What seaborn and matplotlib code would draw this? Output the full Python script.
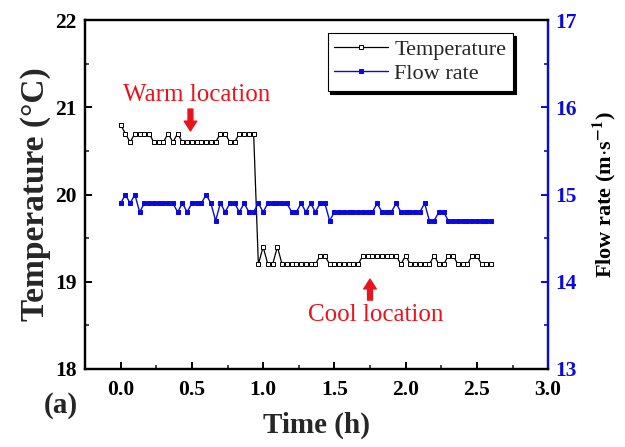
"""
Temperature and flow rate over time, dual y-axis line chart.
"""
import numpy as np
import matplotlib
matplotlib.use('Agg')
import matplotlib.pyplot as plt
import seaborn as sns
from matplotlib.ticker import MultipleLocator

# Time in hours, one reading every 2 minutes
time_h = [k / 30 for k in range(79)]

# Temperature readings (deg C)
temperature = [
    20.8, 20.7, 20.6, 20.7, 20.7, 20.7, 20.7, 20.6, 20.6, 20.6,
    20.7, 20.6, 20.7, 20.6, 20.6, 20.6, 20.6, 20.6, 20.6, 20.6,
    20.6, 20.7, 20.7, 20.6, 20.6, 20.7, 20.7, 20.7, 20.7, 19.2,
    19.4, 19.2, 19.2, 19.4, 19.2, 19.2, 19.2, 19.2, 19.2, 19.2,
    19.2, 19.2, 19.3, 19.3, 19.2, 19.2, 19.2, 19.2, 19.2, 19.2,
    19.2, 19.3, 19.3, 19.3, 19.3, 19.3, 19.3, 19.3, 19.3, 19.2,
    19.3, 19.2, 19.2, 19.2, 19.2, 19.2, 19.3, 19.2, 19.2, 19.3,
    19.3, 19.2, 19.2, 19.2, 19.3, 19.3, 19.2, 19.2, 19.2,
]

# Flow rate readings (m/s)
flow_rate = [
    14.9, 15.0, 14.9, 15.0, 14.8, 14.9, 14.9, 14.9, 14.9, 14.9,
    14.9, 14.9, 14.8, 14.9, 14.8, 14.9, 14.9, 14.9, 15.0, 14.9,
    14.7, 14.9, 14.8, 14.9, 14.9, 14.8, 14.9, 14.8, 14.8, 14.9,
    14.8, 14.9, 14.9, 14.9, 14.9, 14.9, 14.8, 14.8, 14.9, 14.8,
    14.9, 14.8, 14.9, 14.9, 14.7, 14.8, 14.8, 14.8, 14.8, 14.8,
    14.8, 14.8, 14.8, 14.8, 14.9, 14.8, 14.8, 14.8, 14.9, 14.8,
    14.8, 14.8, 14.8, 14.8, 14.9, 14.7, 14.7, 14.8, 14.8, 14.7,
    14.7, 14.7, 14.7, 14.7, 14.7, 14.7, 14.7, 14.7, 14.7,
]

BLUE = '#0a0adc'
RED = '#e8141b'

sns.set_style('ticks')
plt.rcParams['font.family'] = ['Liberation Serif', 'DejaVu Serif']
plt.rcParams['mathtext.fontset'] = 'stix'

fig = plt.figure(figsize=(6.25, 4.47), dpi=100)
ax1 = fig.add_axes([0.136, 0.1745, 0.741, 0.7805])
ax2 = ax1.twinx()

# Temperature on left axis
sns.lineplot(x=time_h, y=temperature, ax=ax1, color='black', linewidth=0.9,
             marker='s', markersize=3.2, markerfacecolor='white',
             markeredgecolor='black', markeredgewidth=0.7, label='Temperature',
             legend=False)

# Flow rate on right axis
sns.lineplot(x=time_h, y=flow_rate, ax=ax2, color=BLUE, linewidth=1.0,
             marker='s', markersize=3.0, markerfacecolor=BLUE,
             markeredgecolor=BLUE, label='Flow rate', legend=False)

ax1.set_xlim(-0.25, 3.0)
ax1.set_ylim(18, 22)
ax2.set_ylim(13, 17)

ax1.xaxis.set_major_locator(MultipleLocator(0.5))
ax1.xaxis.set_minor_locator(MultipleLocator(0.25))
ax1.yaxis.set_major_locator(MultipleLocator(1))
ax1.yaxis.set_minor_locator(MultipleLocator(0.5))
ax2.yaxis.set_major_locator(MultipleLocator(1))
ax2.yaxis.set_minor_locator(MultipleLocator(0.5))
ax1.set_xticks(np.arange(0, 3.01, 0.5))
ax1.set_xticklabels([f'{v:.1f}' for v in np.arange(0, 3.01, 0.5)])

for ax in (ax1, ax2):
    for side in ('left', 'right', 'top', 'bottom'):
        ax.spines[side].set_linewidth(1.6)
        ax.spines[side].set_color('black')
ax2.spines['right'].set_color(BLUE)

ax1.tick_params(axis='both', which='major', direction='in', length=5, width=1.4,
                labelsize=15.5, colors='black')
ax1.tick_params(axis='x', which='major', pad=8)
ax1.tick_params(axis='y', which='major', pad=6)
ax1.tick_params(axis='both', which='minor', direction='in', length=3, width=1.2)
ax1.tick_params(axis='x', top=False, which='both')
ax2.tick_params(axis='y', which='major', direction='in', length=5, width=1.4,
                labelsize=15.5, pad=5, colors=BLUE)
ax2.tick_params(axis='y', which='minor', direction='in', length=3, width=1.2,
                colors=BLUE)
for lab in ax1.get_xticklabels() + ax1.get_yticklabels() + ax2.get_yticklabels():
    lab.set_fontweight('bold')

ax1.set_xlabel('Time (h)', fontsize=21, fontweight='bold', labelpad=8)
ax1.set_ylabel('Temperature (°C)', fontsize=24, fontweight='bold', labelpad=3)
ax2.set_ylabel(r'Flow rate (m$\cdot$s$^{\mathbf{-1}}$)', fontsize=16,
               fontweight='bold', labelpad=10, color='black')

# Annotations
ax1.text(0.535, 21.14, 'Warm location', color=RED, fontsize=18,
         ha='center', va='center')
ax1.annotate('', xy=(0.49, 20.73), xytext=(0.49, 20.98),
             arrowprops=dict(facecolor=RED, edgecolor=RED, width=3.5,
                             headwidth=9, headlength=7, shrink=0))
ax1.text(1.79, 18.62, 'Cool location', color=RED, fontsize=18,
         ha='center', va='center')
ax1.annotate('', xy=(1.75, 19.03), xytext=(1.75, 18.79),
             arrowprops=dict(facecolor=RED, edgecolor=RED, width=3.5,
                             headwidth=9, headlength=7, shrink=0))

fig.text(0.098, 0.092, '(a)', fontsize=21, fontweight='bold',
         ha='center', va='center')

# Combined legend
h1, l1 = ax1.get_legend_handles_labels()
h2, l2 = ax2.get_legend_handles_labels()
leg = ax2.legend(h1 + h2, l1 + l2, loc='upper right',
                 bbox_to_anchor=(0.924, 0.963), borderaxespad=0,
                 fontsize=16, frameon=True, fancybox=False,
                 shadow={'color': 'black', 'alpha': 1.0},
                 handlelength=2.4, labelspacing=0.15, borderpad=0.3,
                 handletextpad=0.3, markerscale=0.8)
leg.get_frame().set_edgecolor('black')
leg.get_frame().set_linewidth(0.8)

fig.savefig('out.png', dpi=100)
plt.close(fig)
